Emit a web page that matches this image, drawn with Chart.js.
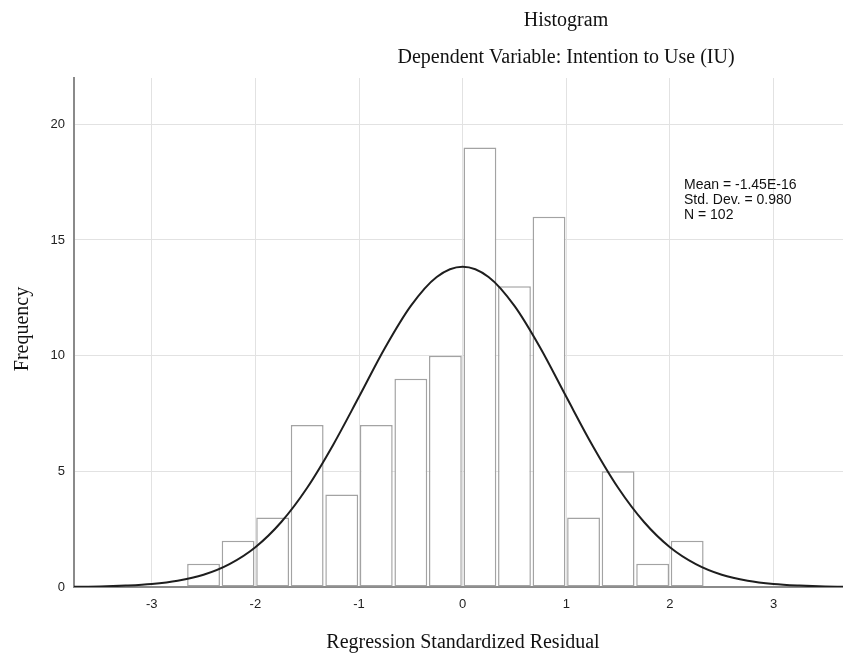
<!DOCTYPE html>
<html>
<head>
    <meta charset="utf-8" />
    <title>Histogram - Intention to Use</title>
    <script src="https://cdn.jsdelivr.net/npm/chart.js"></script>
    <style>
        html, body { margin: 0; padding: 0; background: #fff; }
        #wrap { width: 843px; height: 653px; }
    </style>
</head>
<body>
    <div id="wrap"><canvas id="myChart" width="843" height="653"></canvas></div>

    <script type="text/javascript">
        // histogram bins (centre of each 1/3-wide bin) and their counts
        const binCenters = [-2.5, -2.1667, -1.8333, -1.5, -1.1667, -0.8333, -0.5, -0.1667,
                            0.1667, 0.5, 0.8333, 1.1667, 1.5, 1.8333, 2.1667];
        const frequency = [1, 2, 3, 7, 4, 7, 9, 10, 19, 13, 16, 3, 5, 1, 2];

        // normal curve
        const curveX = [-3.75, -3.5, -3.25, -3, -2.75, -2.5, -2.25, -2, -1.75, -1.5, -1.25, -1, -0.75, -0.5, -0.25, 0,
                        0.25, 0.5, 0.75, 1, 1.25, 1.5, 1.75, 2, 2.25, 2.5, 2.75, 3, 3.25, 3.5, 3.75];
        const curveY = [0.01, 0.02, 0.06, 0.13, 0.27, 0.53, 0.99, 1.72, 2.81, 4.29, 6.14, 8.22, 10.33, 12.15, 13.40, 13.84,
                        13.40, 12.15, 10.33, 8.22, 6.14, 4.29, 2.81, 1.72, 0.99, 0.53, 0.27, 0.13, 0.06, 0.02, 0.01];

        const xTicks = [-3, -2, -1, 0, 1, 2, 3];
        const yTicks = [0, 5, 10, 15, 20];

        const titleText = "Histogram";
        const subtitleText = "Dependent Variable: Intention to Use (IU)";
        const xTitle = "Regression Standardized Residual";
        const yTitle = "Frequency";
        const statsLines = ["Mean = -1.45E-16", "Std. Dev. = 0.980", "N = 102"];

        const serif = '"Liberation Serif", "Times New Roman", serif';
        const sans = '"Liberation Sans", Arial, sans-serif';

        // titles and the stats box are drawn by hand so they sit where SPSS puts them
        const textPlugin = {
            id: 'spssText',
            afterDraw(chart) {
                const c = chart.ctx;
                c.save();
                c.fillStyle = '#111';
                c.font = '20px ' + serif;
                c.textAlign = 'center';
                c.textBaseline = 'alphabetic';
                c.fillText(titleText, 566, 26);
                c.fillText(subtitleText, 566, 63);
                c.fillText(xTitle, 463, 648);

                c.save();
                c.translate(28, 329);
                c.rotate(-Math.PI / 2);
                c.fillText(yTitle, 0, 0);
                c.restore();

                c.textAlign = 'left';
                c.font = '14px ' + sans;
                statsLines.forEach((s, i) => c.fillText(s, 684, 189 + i * 15));
                c.restore();
            }
        };

        const ctx = document.getElementById('myChart');
        new Chart(ctx, {
            data: {
                datasets: [{
                    type: 'line',
                    label: 'Normal',
                    data: curveX.map((x, i) => ({ x: x, y: curveY[i] })),
                    borderColor: '#1e1e1e',
                    borderWidth: 2,
                    pointRadius: 0,
                    cubicInterpolationMode: 'monotone',
                    fill: false,
                    order: 0
                }, {
                    type: 'bar',
                    label: 'Frequency',
                    data: binCenters.map((x, i) => ({ x: x, y: frequency[i] })),
                    backgroundColor: '#ffffff',
                    borderColor: '#a3a3a3',
                    borderWidth: 1.5,
                    borderSkipped: false,
                    categoryPercentage: 1.0,
                    barPercentage: 0.95,
                    order: 1
                }]
            },
            options: {
                responsive: false,
                animation: false,
                layout: { padding: { top: 78, right: 0, left: 0, bottom: 0 } },
                plugins: {
                    legend: { display: false },
                    tooltip: { enabled: false },
                    title: { display: false }
                },
                scales: {
                    x: {
                        type: 'linear',
                        min: -3.75,
                        max: 3.67,
                        offset: false,
                        grid: { color: '#e2e2e2', drawTicks: false, offset: false },
                        border: { color: '#8a8a8a', width: 2 },
                        afterBuildTicks: s => { s.ticks = xTicks.map(v => ({ value: v })); },
                        afterFit: s => { s.height = 66; },
                        ticks: {
                            padding: 10,
                            color: '#222',
                            font: { family: sans, size: 13 }
                        }
                    },
                    y: {
                        type: 'linear',
                        min: 0,
                        max: 22,
                        grid: { color: '#e2e2e2', drawTicks: false },
                        border: { color: '#8a8a8a', width: 2 },
                        afterBuildTicks: s => { s.ticks = yTicks.map(v => ({ value: v })); },
                        afterFit: s => { s.width = 74; },
                        ticks: {
                            padding: 9,
                            color: '#222',
                            font: { family: sans, size: 13 }
                        }
                    }
                }
            },
            plugins: [textPlugin]
        });
    </script>
</body>
</html>
